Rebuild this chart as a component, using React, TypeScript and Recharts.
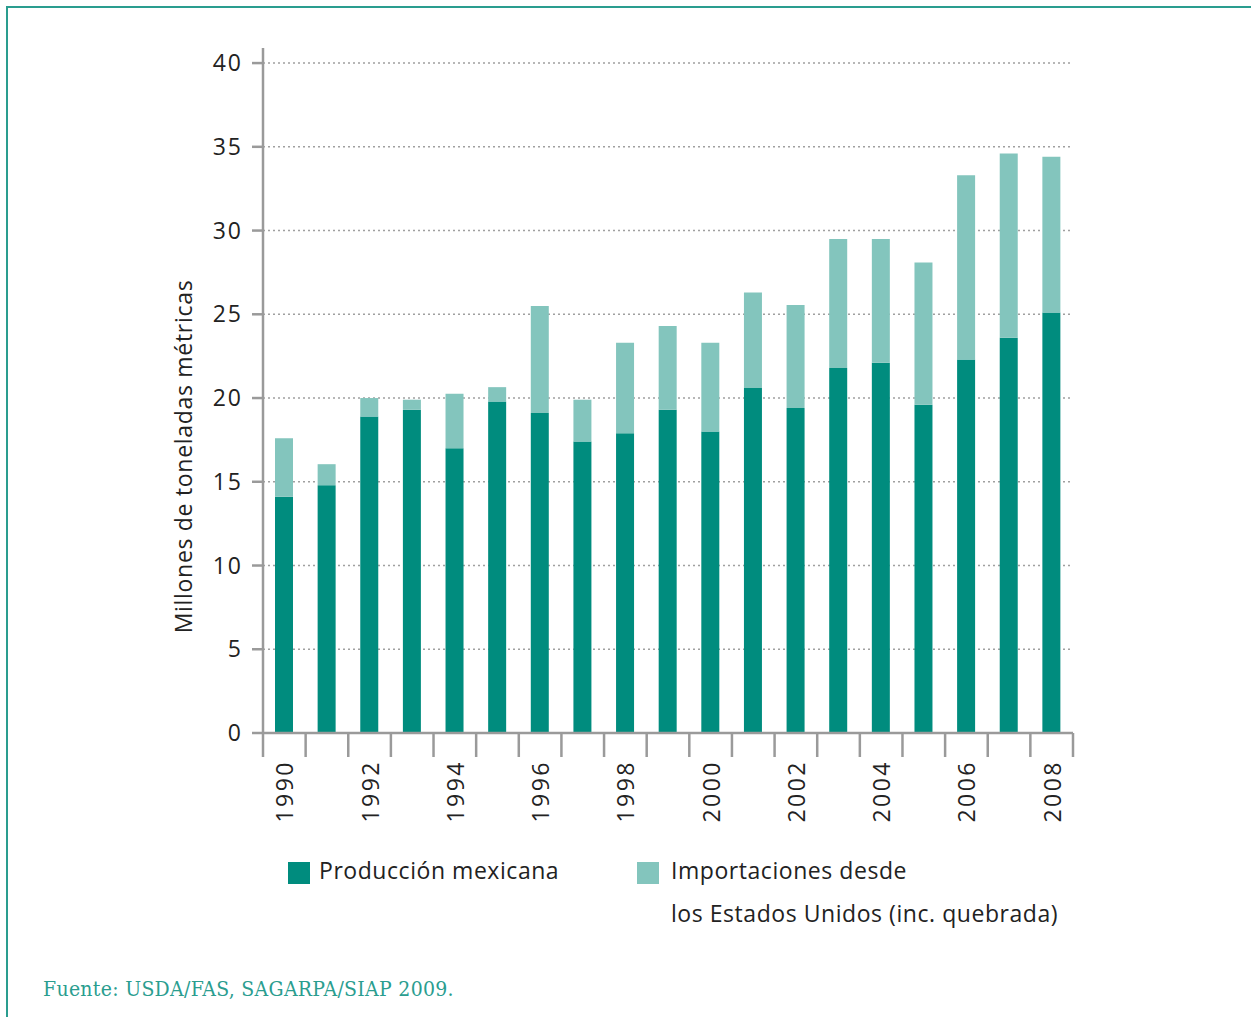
import React from "react";
import { BarChart, Bar, XAxis, YAxis, CartesianGrid, Label } from "recharts";

const years = [
  "1990", "1991", "1992", "1993", "1994", "1995", "1996", "1997", "1998", "1999",
  "2000", "2001", "2002", "2003", "2004", "2005", "2006", "2007", "2008",
];
const produccion = [
  14.1, 14.8, 18.9, 19.3, 17.0, 19.8, 19.1, 17.4, 17.9, 19.3,
  18.0, 20.6, 19.4, 21.8, 22.1, 19.6, 22.3, 23.6, 25.1,
];
const importaciones = [
  3.5, 1.25, 1.1, 0.6, 3.25, 0.85, 6.4, 2.5, 5.4, 5.0,
  5.3, 5.7, 6.15, 7.7, 7.4, 8.5, 11.0, 11.0, 9.3,
];
const yTicks = [0, 5, 10, 15, 20, 25, 30, 35, 40];

const data = years.map((year, i) => ({
  year,
  produccion: produccion[i],
  importaciones: importaciones[i],
}));

const DARK = "#008C7E";
const LIGHT = "#83C5BD";
const AXIS = "#9a9a9a";
const FONT = "'Open Sans', sans-serif";

const W = 1251;
const H = 1017;
const margin = { top: 48, right: 178, bottom: 184, left: 0 };
const yAxisWidth = 263;
const plotWidth = W - margin.left - margin.right - yAxisWidth;
const band = plotWidth / years.length;

function YearTick(props: any) {
  const { x, y, index, payload } = props;
  const left = x - band / 2;
  const showLabel = Number(payload.value) % 2 === 0;
  return (
    <g>
      <line x1={left} y1={y} x2={left} y2={y + 24} stroke={AXIS} strokeWidth={2.5} />
      {index === years.length - 1 && (
        <line x1={x + band / 2} y1={y} x2={x + band / 2} y2={y + 24} stroke={AXIS} strokeWidth={2.5} />
      )}
      {showLabel && (
        <text
          x={x}
          y={y + 27}
          transform={`rotate(-90, ${x}, ${y + 27})`}
          textAnchor="end"
          dominantBaseline="central"
          fontSize={23}
          letterSpacing={2.5}
          fontFamily={FONT}
          fill="#222"
        >
          {payload.value}
        </text>
      )}
    </g>
  );
}

function LegendItem({ color, lines, gap }: { color: string; lines: string[]; gap: number }) {
  return (
    <div style={{ display: "flex", alignItems: "flex-start" }}>
      <div style={{ width: 22, height: 22, background: color, marginTop: 3, marginRight: gap }} />
      <div
        style={{
          fontSize: 23,
          lineHeight: "43px",
          marginTop: -10,
          color: "#222",
          letterSpacing: 0.55,
          whiteSpace: "nowrap",
        }}
      >
        {lines.map((l) => (
          <div key={l}>{l}</div>
        ))}
      </div>
    </div>
  );
}

export default function App() {
  return (
    <div
      style={{
        position: "absolute",
        left: 0,
        top: 0,
        width: W,
        height: H,
        overflow: "hidden",
        background: "#fff",
        fontFamily: FONT,
      }}
    >
      <div
        style={{
          position: "absolute",
          left: 6,
          top: 6,
          width: 1400,
          height: 1200,
          borderTop: "2px solid #2a9d8f",
          borderLeft: "2px solid #2a9d8f",
        }}
      />
      <div style={{ position: "absolute", left: 0, top: 0 }}>
        <BarChart width={W} height={H} data={data} margin={margin} barSize={18}>
          <CartesianGrid
            horizontal
            vertical={false}
            horizontalValues={yTicks}
            stroke="#a0a0a0"
            strokeDasharray="2 3"
            strokeWidth={1.6}
          />
          <XAxis
            dataKey="year"
            interval={0}
            height={100}
            tickSize={0}
            tickMargin={0}
            tickLine={false}
            axisLine={{ stroke: AXIS, strokeWidth: 2.5 }}
            tick={<YearTick />}
          />
          <YAxis
            type="number"
            domain={[0, 40.9]}
            ticks={yTicks}
            width={yAxisWidth}
            tickSize={11}
            tickMargin={9}
            tickLine={{ stroke: AXIS, strokeWidth: 2.5 }}
            axisLine={{ stroke: AXIS, strokeWidth: 2.5 }}
            tick={{ fontSize: 23, fill: "#222", fontFamily: FONT, letterSpacing: 2 }}
          >
            <Label
              content={(p: any) => {
                const vb = p.viewBox;
                const cx = vb.x + vb.width - 80;
                const cy = vb.y + vb.height / 2 + 66;
                return (
                  <text
                    x={cx}
                    y={cy}
                    transform={`rotate(-90, ${cx}, ${cy})`}
                    textAnchor="middle"
                    dominantBaseline="central"
                    fontSize={23}
                    letterSpacing={0.7}
                    fontFamily={FONT}
                    fill="#222"
                  >
                    Millones de toneladas métricas
                  </text>
                );
              }}
            />
          </YAxis>
          <Bar dataKey="produccion" stackId="a" fill={DARK} isAnimationActive={false} />
          <Bar dataKey="importaciones" stackId="a" fill={LIGHT} isAnimationActive={false} />
        </BarChart>
      </div>
      <div style={{ position: "absolute", left: 288, top: 859 }}>
        <LegendItem color={DARK} lines={["Producción mexicana"]} gap={9} />
      </div>
      <div style={{ position: "absolute", left: 637, top: 859 }}>
        <LegendItem
          color={LIGHT}
          gap={12}
          lines={["Importaciones desde", "los Estados Unidos (inc. quebrada)"]}
        />
      </div>
      <div
        style={{
          position: "absolute",
          left: 43,
          top: 977,
          fontSize: 21,
          letterSpacing: 0.3,
          color: "#2a9d8f",
          fontFamily: "'DejaVu Serif Condensed', 'DejaVu Serif', serif",
          whiteSpace: "nowrap",
        }}
      >
        Fuente: USDA/FAS, SAGARPA/SIAP 2009.
      </div>
    </div>
  );
}
